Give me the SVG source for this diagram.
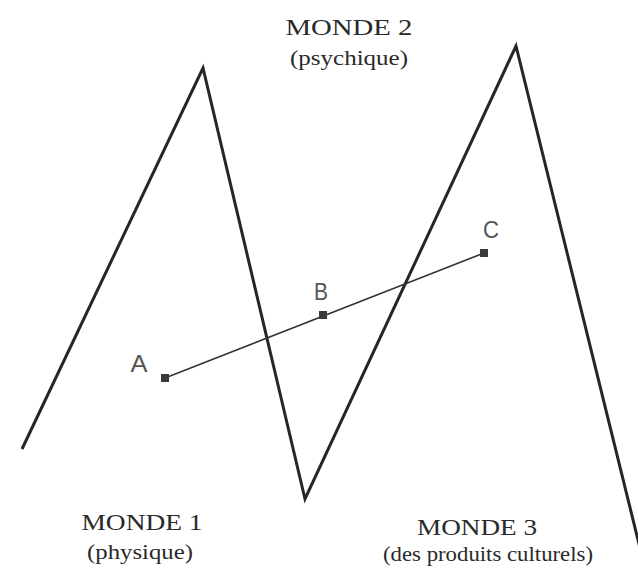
<svg xmlns="http://www.w3.org/2000/svg" width="638" height="571" viewBox="0 0 638 571">
<style>
.zig{fill:none;stroke:#262626;stroke-width:3;stroke-linejoin:miter}
.seg{fill:none;stroke:#333;stroke-width:1.6}
.pt{fill:#3a3a3a}
.t{font-family:"Liberation Serif","DejaVu Serif",serif;fill:#2a2a2a;text-anchor:middle}
.h{font-size:23px}
.s{font-size:21px}
.l{font-family:"Liberation Sans",Arial,sans-serif;font-size:24px;fill:#555;text-anchor:middle}
</style>
<rect width="638" height="571" fill="#fff"/>
<g id="connectors">
<polyline id="zigzag" class="zig" points="22,449 203,68 305,499 516,46 640,548"/>
<line id="ac" class="seg" x1="165" y1="378" x2="484" y2="253"/>
</g>
<g id="A"><rect class="pt" x="161" y="374" width="8" height="8"/><text class="l" x="139" y="372" textLength="17" lengthAdjust="spacingAndGlyphs">A</text></g>
<g id="B"><rect class="pt" x="319" y="311" width="8" height="8"/><text class="l" x="321" y="300" textLength="14" lengthAdjust="spacingAndGlyphs">B</text></g>
<g id="C"><rect class="pt" x="480" y="249" width="8" height="8"/><text class="l" x="491" y="238" textLength="16" lengthAdjust="spacingAndGlyphs">C</text></g>
<g id="monde2"><text class="t h" x="349" y="35" textLength="127" lengthAdjust="spacingAndGlyphs">MONDE 2</text><text class="t s" x="349" y="65" textLength="118" lengthAdjust="spacingAndGlyphs">(psychique)</text></g>
<g id="monde1"><text class="t h" x="142" y="530" textLength="121" lengthAdjust="spacingAndGlyphs">MONDE 1</text><text class="t s" x="140" y="559" textLength="106" lengthAdjust="spacingAndGlyphs">(physique)</text></g>
<g id="monde3"><text class="t h" x="477" y="535" textLength="120" lengthAdjust="spacingAndGlyphs">MONDE 3</text><text class="t s" x="488" y="561" textLength="210" lengthAdjust="spacingAndGlyphs">(des produits culturels)</text></g>
</svg>
